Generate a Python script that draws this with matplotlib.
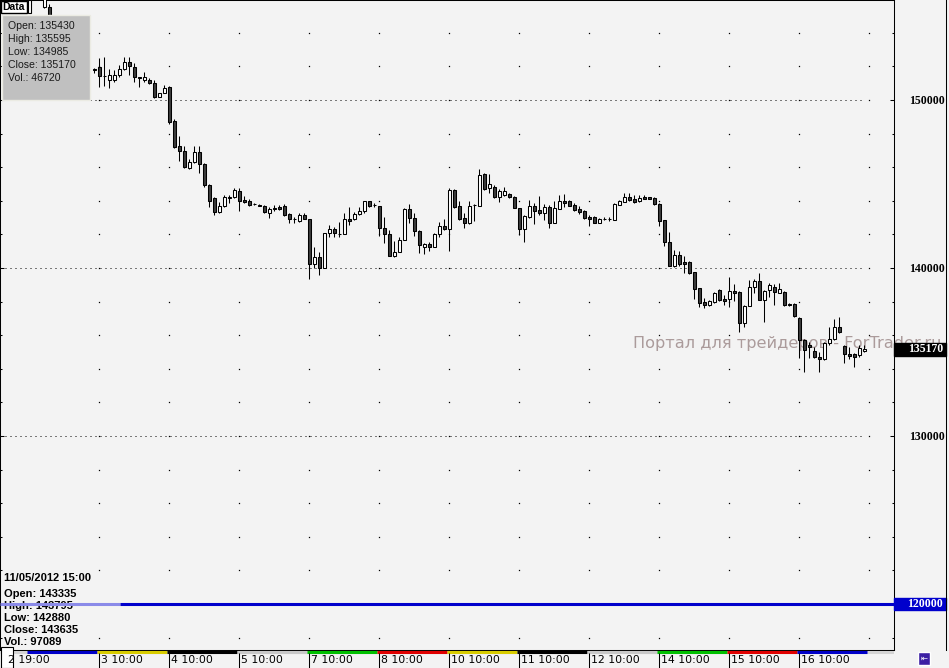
import numpy as np
import matplotlib
matplotlib.use("Agg")
import matplotlib.pyplot as plt
from matplotlib.patches import Rectangle
from matplotlib.transforms import blended_transform_factory
from matplotlib.ticker import FixedLocator, MultipleLocator

W, H = 949, 668

# hourly candles (RTS futures), one slot per hour; None = hidden under the info box
opens = [155540, 155540, None, None, None, None, None, None, None, None,
         151845, 151964, 151430, 151190, 151190, 151488, 151845, 152262, 151964, 151369,
         151190, 151190, 151012, 150179, 150417, 150774, 148750, 147262, 146964, 145952,
         146309, 146905, 146190, 144940, 144167, 143333, 143690, 144170, 144226, 144583,
         144048, 143988, 143810, 143750, 143690, 143274, 143571, 143631, 143690, 143214,
         142917, 142798, 143155, 142917, 140238, 140655, 140000, 142083, 142321, 142030,
         142024, 142917, 142917, 143214, 143393, 143988, 143750, 143690, 142381, 142024,
         140714, 140952, 141667, 143512, 142976, 142202, 141250, 141429, 141250, 142024,
         142500, 142321, 144643, 143690, 142976, 142679, 143740, 143690, 145595, 144762,
         144821, 144226, 144345, 144405, 144226, 143571, 142321, 143036, 143690, 143452,
         143274, 143631, 142679, 143512, 143988, 143988, 143750, 143512, 143393, 143036,
         143036, 142679, 142910, 142920, 142857, 143750, 143929, 144226, 144107, 143988,
         144226, 144226, 144167, 143810, 142857, 141548, 140119, 140774, 140357, 140357,
         139762, 138810, 137976, 137798, 137976, 138690, 138155, 138155, 138631, 138571,
         136726, 137738, 138869, 139226, 138095, 138690, 138869, 138512, 138571, 137857,
         137857, 137024, 135714, 135417, 135060, 134702, 134583, 135536, 135774, 136488,
         135357, 134881, 134881, 134821, 135060]
highs = [156500, 155700, None, None, None, None, None, None, None, None,
         151905, 152500, 152560, 151845, 151786, 152083, 152560, 152560, 152202, 151369,
         151667, 151310, 151190, 150420, 150893, 150833, 148869, 147857, 147262, 146488,
         147262, 147262, 146250, 145000, 144226, 143929, 144345, 144345, 144762, 144762,
         144286, 144107, 143869, 143780, 143750, 143631, 143750, 143750, 143810, 143274,
         143036, 143274, 143274, 142917, 141250, 140952, 142083, 142560, 142440, 142738,
         143274, 143631, 143333, 143631, 143988, 143988, 143869, 143690, 143036, 142262,
         141607, 141845, 143571, 143810, 143274, 142262, 141488, 141548, 142083, 142738,
         142917, 144762, 144702, 143988, 143274, 143988, 143810, 145893, 145655, 145595,
         144940, 144702, 144821, 144464, 144286, 143571, 143155, 144048, 143869, 144286,
         143810, 143750, 143988, 144345, 144405, 144048, 143869, 143690, 143452, 143155,
         143095, 142976, 143036, 143036, 143869, 144048, 144464, 144464, 144345, 144345,
         144345, 144226, 144226, 143869, 142857, 142143, 141071, 141012, 140714, 140417,
         139762, 138810, 138214, 138095, 138571, 138750, 138393, 139464, 139048, 138631,
         137798, 139286, 139345, 139702, 138690, 139107, 139048, 139107, 138631, 137917,
         137917, 137083, 135774, 135595, 135298, 135000, 135595, 136488, 136964, 137083,
         135417, 135298, 134940, 135417, 135420]
lows = [155480, 154400, None, None, None, None, None, None, None, None,
        151610, 150774, 150830, 150714, 151071, 151369, 151786, 151488, 151071, 150774,
        151071, 150952, 150119, 150150, 150417, 148571, 147143, 146369, 145952, 145893,
        146250, 145655, 144821, 143631, 143155, 143274, 143631, 143870, 144167, 143393,
        143869, 143690, 143750, 143690, 143274, 142976, 143393, 143452, 143095, 142679,
        142679, 142738, 142917, 139345, 140000, 139583, 140000, 141845, 141845, 141845,
        142024, 142560, 142857, 143155, 143274, 143631, 143631, 141905, 141488, 140714,
        140655, 140952, 141667, 142679, 141905, 140893, 140833, 141012, 141250, 141845,
        142262, 141012, 143571, 142857, 142381, 142619, 142800, 143690, 144643, 144464,
        144167, 143929, 144286, 144167, 143571, 141964, 141548, 142976, 142619, 143155,
        142857, 142381, 142679, 143512, 143631, 143690, 143393, 143214, 142917, 142500,
        142679, 142679, 142857, 142798, 142857, 143750, 143929, 143988, 143869, 143929,
        144107, 144107, 143750, 142500, 141310, 140119, 140060, 140119, 139702, 139643,
        138155, 137679, 137619, 137738, 137917, 138036, 137798, 137679, 138036, 136190,
        136488, 137738, 138512, 138095, 136786, 138274, 137798, 138512, 137738, 137738,
        137083, 134643, 133810, 134643, 134643, 133810, 134524, 135417, 135714, 136131,
        134345, 134583, 134107, 134702, 135000]
closes = [156200, 154500, None, None, None, None, None, None, None, None,
          151800, 151429, 151400, 151488, 151488, 151845, 152262, 152024, 151369, 151310,
          151369, 151012, 150179, 150417, 150714, 148690, 147202, 146964, 146012, 146309,
          146905, 146190, 144940, 143988, 143333, 143690, 144226, 144230, 144643, 143988,
          143929, 143750, 143800, 143690, 143333, 143512, 143512, 143512, 143155, 142917,
          142900, 143155, 142917, 140238, 140655, 140000, 142083, 142321, 142083, 142010,
          142917, 142798, 143214, 143393, 143988, 143690, 143740, 142381, 142024, 140714,
          140952, 141667, 143512, 142976, 142202, 141369, 141429, 141250, 142024, 142500,
          142321, 144643, 143631, 142917, 142679, 143690, 143760, 145536, 144702, 145000,
          144226, 144583, 144583, 144226, 143571, 142321, 143095, 143690, 143393, 143274,
          143631, 142679, 143571, 143988, 143869, 143690, 143452, 143333, 142976, 142917,
          142679, 142917, 142920, 142910, 143810, 143988, 144226, 144048, 143929, 144167,
          144107, 144107, 143810, 142798, 141548, 140119, 140774, 140238, 140238, 139702,
          138750, 137917, 137798, 138036, 138512, 138095, 138036, 138631, 138512, 136726,
          137738, 138869, 139226, 138095, 138631, 138988, 138571, 138750, 137798, 137798,
          137143, 135714, 135119, 135298, 134702, 134583, 135536, 135774, 136488, 136190,
          134881, 134762, 134702, 135238, 135170]

day_labels = ["3 10:00", "4 10:00", "5 10:00", "7 10:00", "8 10:00", "10 10:00",
              "11 10:00", "12 10:00", "14 10:00", "15 10:00", "16 10:00"]
day_colors = ["#0000c8", "#d8cc00", "#000000", "#c8c8c8", "#00c000", "#e00000",
              "#d8cc00", "#000000", "#c8c8c8", "#00c000", "#e00000", "#0000c8"]

last_info = ["Open: 135430", "High: 135595", "Low: 134985", "Close: 135170", "Vol.: 46720"]
bar_time = "11/05/2012 15:00"
bar_info = ["Open: 143335", "High: 143795", "Low: 142880", "Close: 143635", "Vol.: 97089"]
last_price = 135170
line_price = 120000
y_labels = [130000, 140000, 150000]

bg = "#f3f3f3"
ppx = 10000 / 168  # price units per pixel

fig = plt.figure(figsize=(W / 100, H / 100), dpi=100, facecolor=bg)
ax = fig.add_axes([0, 18 / H, 894 / W, 650 / H], facecolor=bg)
ax.set_xlim(-8.9, 169.9)
ax.set_ylim(117262, 155952)

o = np.array([np.nan if v is None else v for v in opens], float)
hi = np.array([np.nan if v is None else v for v in highs], float)
lo = np.array([np.nan if v is None else v for v in lows], float)
c = np.array([np.nan if v is None else v for v in closes], float)
x = np.arange(len(o))
ok = ~np.isnan(o)
up = ok & (c >= o)
dn = ok & (c < o)

# grid: dotted lines every 10000, single dots at day columns / 2000 levels
ax.hlines(y_labels, -8.9, 164.2, colors="black", linestyles=(0, (1, 4)), lw=0.72, zorder=1)
cols = 11 + 14 * np.arange(12)
rows = np.arange(118000, 156000, 2000)
gx, gy = np.meshgrid(cols, rows)
ax.plot(gx.ravel(), gy.ravel(), ls="none", marker="s", ms=0.9, mew=0, color="black", zorder=1)

ax.text(117.8, 135240, "Портал для трейдеров - ForTrader.ru", fontsize=11.6,
        color="#ab9b9b", va="baseline", ha="left", zorder=2, clip_on=False)

# candles
ax.vlines(x[ok], lo[ok], hi[ok], color="black", lw=0.75, zorder=3)
ax.bar(x[up], c[up] - o[up], bottom=o[up], width=0.45, facecolor="white",
       edgecolor="black", lw=0.75, zorder=4)
ax.bar(x[dn], c[dn] - o[dn], bottom=o[dn], width=0.45, facecolor="#3c3c3c",
       edgecolor="black", lw=0.75, zorder=4)

# axis styling
ax.yaxis.set_major_locator(FixedLocator(y_labels))
ax.yaxis.set_minor_locator(MultipleLocator(2000))
ax.tick_params(axis="y", which="major", direction="in", length=3.2, width=0.75,
               left=True, right=True, labelleft=False, labelright=True, pad=10.5)
ax.tick_params(axis="y", which="minor", direction="in", length=1.5, width=0.75,
               left=True, right=True)
ax.set_yticklabels([str(v) for v in y_labels], fontfamily="Liberation Serif",
                   fontweight="bold", fontsize=8.5)
ax.tick_params(axis="x", bottom=False, labelbottom=False)
for s in ax.spines.values():
    s.set_color("black")
    s.set_linewidth(0.75)

tr = blended_transform_factory(ax.transAxes, ax.transData)
# horizontal level line + its label
ax.hlines(line_price, -8.9, 15.2, color="#8a8ae8", lw=2.2, zorder=6)
ax.hlines(line_price, 15.2, 169.9, color="#0000cc", lw=2.2, zorder=6)
ax.add_patch(Rectangle((1.0, line_price - 6 * ppx), 52 / 894, 12 * ppx, transform=tr,
                       fc="#0000cc", ec="#0000cc", clip_on=False, zorder=6))
ax.text(943 / 894, line_price, str(line_price), transform=tr, ha="right", va="center",
        color="white", fontfamily="Liberation Serif", fontweight="bold", fontsize=8.5,
        zorder=7, clip_on=False)
# last price label
ax.add_patch(Rectangle((1.0, last_price - 6.5 * ppx), 52 / 894, 13 * ppx, transform=tr,
                       fc="black", ec="black", clip_on=False, zorder=6))
ax.text(943 / 894, last_price, str(last_price), transform=tr, ha="right", va="center",
        color="white", fontfamily="Liberation Serif", fontweight="bold", fontsize=8.5,
        zorder=7, clip_on=False)

# bottom-left bar info (under the level line)
ax.text(4 / W, 1 - 578 / H, bar_time, transform=fig.transFigure, va="center",
        fontfamily="Liberation Sans", fontweight="bold", fontsize=8, zorder=5)
for k, t in enumerate(bar_info):
    ax.text(4 / W, 1 - (594 + 12 * k) / H, t, transform=fig.transFigure, va="center",
            fontfamily="Liberation Sans", fontweight="bold", fontsize=8, zorder=5)

# time axis strip
ax_t = fig.add_axes([0, 0, 894 / W, 18 / H], sharex=ax)
ax_t.set_ylim(18, 0)
ax_t.axis("off")
ax_t.hlines(2, -8.9, 169.9, color="#d4d4d4", lw=2.2)
for k, col in enumerate(day_colors):
    ax_t.hlines(2, -3.4 + 14 * k, 10.6 + 14 * k, color=col, lw=2.2)
tick_slots = 11 + 14 * np.arange(len(day_labels))
ax_t.vlines(tick_slots, 3, 18, color="black", lw=0.75)
for s, lab in zip(tick_slots, day_labels):
    ax_t.text(s + 0.4, 10, lab, va="center", ha="left", fontsize=7.8)

# overlay decorations in pixel space
deco = fig.add_axes([0, 0, 1, 1], zorder=5)
deco.set_xlim(0, W)
deco.set_ylim(H, 0)
deco.axis("off")
deco.add_patch(Rectangle((2, 15), 88, 85, fc="#c0c0c0", ec="#ebebe3", lw=1))
for k, t in enumerate(last_info):
    deco.text(8, 26 + 13 * k, t, va="center", fontfamily="Liberation Sans",
              fontsize=7.6, color="#1a1a1a")
deco.add_patch(Rectangle((0.5, 0.5), 27, 12, fc="white", ec="black", lw=1))
deco.add_patch(Rectangle((28.5, 0), 2.5, 13, fc="white", ec="black", lw=0.8))
deco.text(2.5, 6.5, "Data", va="center", fontfamily="Liberation Sans",
          fontweight="bold", fontsize=7.5)
deco.plot([946.5, 946.5], [0, 650], color="black", lw=0.75)
deco.text(8, 660, "2 19:00", va="center", fontsize=7.8)
deco.add_patch(Rectangle((0.5, 647), 12.5, 21, fc="white", ec="black", lw=0.8))
deco.add_patch(Rectangle((918, 652), 12, 13, fc="#3b1fa3", ec="white", lw=1))
deco.text(924, 658.5, "⇤", ha="center", va="center", color="white", fontsize=6)

fig.savefig("out.png", dpi=100, facecolor=bg)
